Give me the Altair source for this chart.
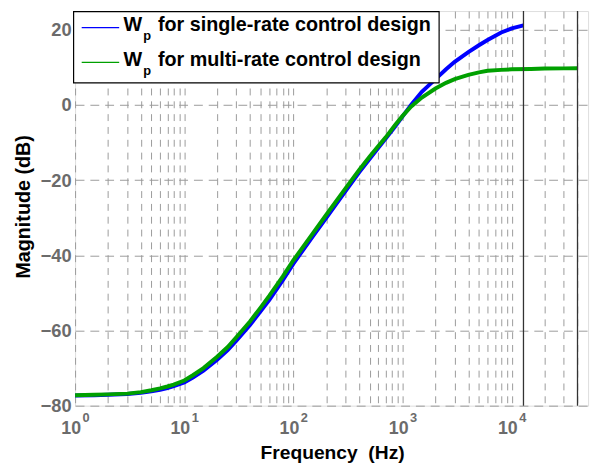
import altair as alt
import pandas as pd

# ---- data ----
freq_single = [1, 1.5, 2, 3, 4, 5, 6, 7, 8, 10, 12, 15, 20, 25, 30, 40, 50, 60, 80, 100,
               150, 200, 300, 400, 500, 600, 700, 850, 1000, 1200, 1500, 2000, 2500, 3000,
               4000, 5000, 6000, 8000, 10000, 12800]
mag_single = [-77.3, -77.2, -77.1, -76.9, -76.6, -76.2, -75.8, -75.3, -74.8, -73.8, -72.5,
              -70.7, -67.8, -65.2, -62.7, -58.5, -54.9, -51.9, -46.6, -42.2, -35.0, -30.0,
              -22.9, -17.9, -14.3, -11.4, -8.9, -5.8, -3.0, 0.1, 3.5, 6.9, 9.5, 11.5,
              14.1, 15.9, 17.3, 19.3, 20.4, 21.2]

freq_multi = [1, 1.5, 2, 3, 4, 5, 6, 7, 8, 10, 12, 15, 20, 25, 30, 40, 50, 60, 80, 100,
              150, 200, 300, 400, 500, 600, 700, 850, 1000, 1200, 1500, 2000, 2500, 3000,
              4000, 5000, 6000, 8000, 10000, 15000, 20000, 30000, 40000]
mag_multi = [-77.2, -77.1, -77.0, -76.8, -76.4, -75.9, -75.4, -74.9, -74.4, -73.3, -71.9,
             -70.0, -67.0, -64.4, -61.8, -57.6, -53.9, -50.8, -45.6, -41.3, -34.2, -29.2,
             -22.2, -17.3, -13.7, -10.9, -8.6, -5.4, -2.9, -0.4, 2.0, 4.4, 5.9, 6.9,
             8.0, 8.7, 9.1, 9.35, 9.5, 9.6, 9.7, 9.75, 9.8]

nyquist_freqs = [12800, 40000]

x_tick_vals = [1, 10, 100, 1000, 10000]
x_tick_base = ["10", "10", "10", "10", "10"]
x_tick_exp = ["0", "1", "2", "3", "4"]
y_tick_vals = [-80, -60, -40, -20, 0, 20]
grid_freqs = [m * 10 ** d for d in range(5) for m in range(1, 10) if m * 10 ** d < 50000]

legend_main = ["W", "W"]
legend_sub = ["p", "p"]
legend_text = ["for single-rate control design", "for multi-rate control design"]

BLUE = "#0000ff"
GREEN = "#00a000"
FONT = "Liberation Sans"
LABEL_GRAY = "#6b6b6b"

# ---- shared encodings ----
xscale = alt.Scale(type="log", domain=[1, 50000], nice=False)
yscale = alt.Scale(domain=[-80, 25], nice=False)

X = alt.X("f:Q", scale=xscale,
          axis=alt.Axis(values=grid_freqs, grid=True, gridDash=[7, 6], gridColor="#9a9a9a",
                        gridWidth=1, labels=False, ticks=False, domain=False,
                        title="Frequency\u00a0 (Hz)", titleFontSize=19.5, titleFontWeight="bold",
                        titleColor="black", titleFont=FONT, titleX=260.5, titleY=53.5,
                        titleAlign="center", titleBaseline="alphabetic"))
Y = alt.Y("m:Q", scale=yscale,
          axis=alt.Axis(values=y_tick_vals, grid=True, gridDash=[9, 6], gridColor="#9a9a9a",
                        gridWidth=1, ticks=False, domain=False, labelFontSize=18.5,
                        labelFontWeight="bold", labelColor=LABEL_GRAY, labelFont=FONT,
                        labelPadding=4,
                        title="Magnitude (dB)", titleFontSize=20, titleFontWeight="bold",
                        titleColor="black", titleFont=FONT, titleX=-42, titleY=198,
                        titleAngle=270, titleAlign="center", titleBaseline="bottom"))

df_single = pd.DataFrame({"f": freq_single, "m": mag_single})
df_multi = pd.DataFrame({"f": freq_multi, "m": mag_multi})
df_nyq = pd.DataFrame({"f": nyquist_freqs})
df_ticks = pd.DataFrame({"f": x_tick_vals, "base": x_tick_base, "exp": x_tick_exp})

line_single = alt.Chart(df_single).mark_line(color=BLUE, strokeWidth=4).encode(x=X, y=Y)
line_multi = alt.Chart(df_multi).mark_line(color=GREEN, strokeWidth=4).encode(x=X, y=Y)
nyq = alt.Chart(df_nyq).mark_rule(color="#333333", strokeWidth=1.3).encode(x=X)

tick_base = alt.Chart(df_ticks).mark_text(
    align="right", baseline="alphabetic", dx=6, fontSize=18, fontWeight="bold",
    color=LABEL_GRAY, font=FONT).encode(x=X, y=alt.value(428.7), text="base:N")
tick_exp = alt.Chart(df_ticks).mark_text(
    align="left", baseline="alphabetic", dx=7.5, fontSize=13, fontWeight="bold",
    color=LABEL_GRAY, font=FONT).encode(x=X, y=alt.value(417), text="exp:N")

# ---- legend (drawn like MATLAB's boxed legend) ----
one = pd.DataFrame({"k": [0]})
leg_box = alt.Chart(one).mark_rect(fill="white", stroke="black", strokeWidth=1.2).encode(
    x=alt.value(-1.5), x2=alt.value(369), y=alt.value(0.6), y2=alt.value(72.7))
leg_rows = []
row_y = [0.0, 35.3]
colors = [BLUE, GREEN]
for i in range(2):
    dy = row_y[i]
    leg_rows.append(alt.Chart(one).mark_rule(color=colors[i], strokeWidth=1.2).encode(
        x=alt.value(6.7), x2=alt.value(44.7), y=alt.value(16.7 + dy)))
    leg_rows.append(alt.Chart(one).mark_text(
        align="left", baseline="alphabetic", fontSize=20, fontWeight="bold", color="black",
        font=FONT, text=legend_main[i]).encode(x=alt.value(49), y=alt.value(20.6 + dy)))
    leg_rows.append(alt.Chart(one).mark_text(
        align="left", baseline="alphabetic", fontSize=13, fontWeight="bold", color="black",
        font=FONT, text=legend_sub[i]).encode(x=alt.value(69), y=alt.value(29.4 + dy)))
    leg_rows.append(alt.Chart(one).mark_text(
        align="left", baseline="alphabetic", fontSize=20, fontWeight="bold", color="black",
        font=FONT, text=legend_text[i]).encode(x=alt.value(84), y=alt.value(20.6 + dy)))

chart = alt.layer(line_single, line_multi, nyq, tick_base, tick_exp, leg_box, *leg_rows).properties(
    width=520, height=400,
    autosize=alt.AutoSizeParams(type="none"),
    padding={"left": 68, "top": 0, "right": 6, "bottom": 55},
).configure_view(stroke="#6e6e6e", strokeWidth=1.5).configure(font=FONT)

chart.save("out.html", embed_options={"renderer": "svg", "actions": False})
